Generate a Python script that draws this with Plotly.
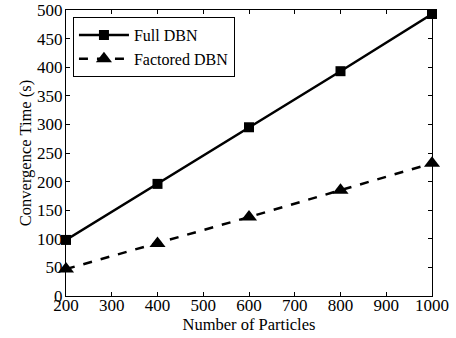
import plotly.graph_objects as go

particles = [200, 400, 600, 800, 1000]
full_dbn = [98, 196, 295, 393, 493]
factored_dbn = [47, 92, 138, 185, 232]

font = "Liberation Serif, Times New Roman, serif"

fig = go.Figure()
fig.add_trace(go.Scatter(x=particles, y=full_dbn, name="Full DBN", mode="lines+markers",
                         line=dict(color="black", width=2.5),
                         marker=dict(symbol="square", size=10, color="black"),
                         cliponaxis=False))
fig.add_trace(go.Scatter(x=particles, y=factored_dbn, name="Factored DBN", mode="lines+markers",
                         line=dict(color="black", width=2.5, dash="dash"),
                         marker=dict(symbol="triangle-up", size=14, color="black"),
                         cliponaxis=False))

axis_common = dict(showline=True, linecolor="black", linewidth=1, mirror="ticks",
                   ticks="inside", ticklen=4, tickcolor="black", showgrid=False,
                   zeroline=False, ticklabeloverflow="allow",
                   tickfont=dict(family=font, size=17, color="black"))
fig.update_layout(
    width=456, height=338,
    margin=dict(l=66, r=24, t=10, b=42, autoexpand=False),
    plot_bgcolor="white", paper_bgcolor="white",
    font=dict(family=font, size=16.5, color="black"),
    xaxis=dict(range=[200, 1000], dtick=100, ticklabelstandoff=-6,
               title=dict(text="Number of Particles", standoff=0,
                          font=dict(family=font, size=16.5)), **axis_common),
    yaxis=dict(range=[0, 500], dtick=50, ticklabelstandoff=-1,
               title=dict(text="Convergence Time (s)", standoff=1,
                          font=dict(family=font, size=16.5)), **axis_common),
    legend=dict(x=0.019, y=0.975, xanchor="left", yanchor="top", bordercolor="black",
                borderwidth=1, bgcolor="white", font=dict(family=font, size=16),
                tracegroupgap=0, itemwidth=50),
    showlegend=True,
)
fig.write_html("out.html", config={"displayModeBar": False},
               post_script="document.body.style.margin='0';")
